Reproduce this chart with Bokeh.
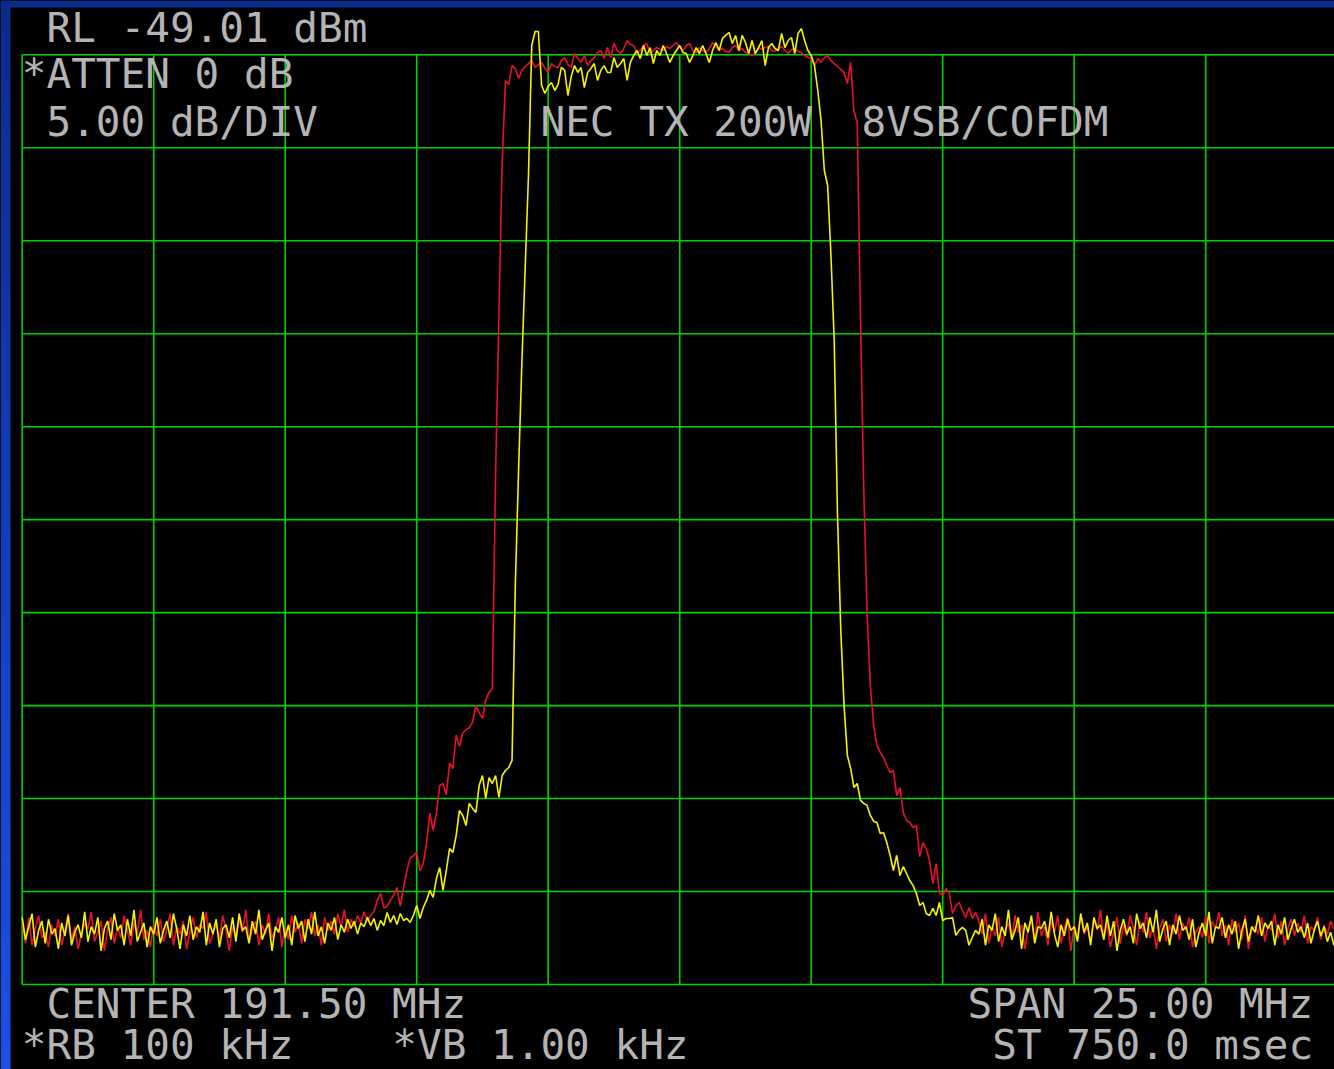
import numpy as np
from bokeh.plotting import figure
from bokeh.models import Range1d, ColumnDataSource
from bokeh.core.properties import value
from bokeh.embed import file_html
from bokeh.resources import INLINE

# ---------------- analyzer settings ----------------
center_mhz = 191.50
span_mhz = 25.00
ref_level_dbm = -49.01
db_per_div = 5.00
n_div = 10
n_points = 401

# ---------------- trace data (dBm) ----------------
red_floor_lo = [
    -95.6, -96.8, -95.4, -96.9, -96.0, -95.3, -96.5, -96.2, -97.0, -95.8,
    -96.4, -95.5, -96.9, -96.1, -95.2, -96.6, -95.9, -97.1, -96.3, -95.7,
    -96.0, -95.1, -96.7, -96.2, -95.6, -97.2, -96.0, -95.4, -96.8, -95.9,
    -96.5, -95.3, -96.1, -96.9, -95.7, -96.3, -95.0, -96.6, -96.1, -97.0,
    -95.8, -96.4, -95.5, -96.7, -96.0, -95.2, -96.9, -95.9, -96.3, -95.6,
    -97.1, -96.2, -95.4, -96.5, -95.8, -96.0, -95.1, -96.8, -96.3, -95.7,
    -96.6, -95.3, -96.1, -97.2, -95.9, -96.4, -95.5, -96.2, -95.0, -96.7,
    -96.0, -95.6, -96.9, -95.8, -96.3, -95.2, -96.5, -96.1, -95.4, -97.0,
    -95.9, -96.6, -95.3, -96.2, -95.7, -96.8, -95.5, -96.0, -95.1, -96.4,
    -95.8, -96.9, -95.4, -96.1, -95.6, -96.3, -95.2, -95.9, -95.0, -96.2,
    -95.5, -95.9, -95.3, -95.7, -95.1, -95.6]
red_rise = [
    -95.3, -95.1, -94.5, -94.1, -94.9, -94.8, -94.5, -94.2, -93.8, -94.8,
    -93.8, -92.9, -92.2, -92.1, -91.9, -92.9, -92.5, -91.4, -89.8, -90.7,
    -89.8, -88.3, -88.2, -88.8, -87.1, -87.4, -85.6, -86.2, -85.5, -85.3,
    -85.2, -84.9, -84.0, -84.4, -84.7, -83.7, -83.3, -83.1, -71.6, -63.0,
    -54.75, -50.4]
red_top = [
    -50.61, -49.59, -49.75, -50.28, -49.85, -49.64, -49.48, -49.32, -49.69, -49.53,
    -49.42, -49.75, -49.96, -49.48, -49.64, -49.69, -49.32, -49.16, -49.53, -49.69,
    -48.94, -49.21, -49.42, -49.05, -49.59, -49.32, -49.16, -48.89, -48.78, -49.21,
    -48.62, -49.16, -48.40, -48.78, -48.94, -48.67, -48.24, -48.46, -48.51, -48.94,
    -48.78, -48.51, -48.40, -48.94, -48.78, -48.62, -48.72, -48.78, -48.56, -48.67,
    -48.51, -48.35, -48.56, -48.78, -48.51, -48.40, -48.78, -48.89, -48.62, -48.78,
    -48.89, -48.67, -48.35, -48.56, -48.78, -48.67, -48.83, -48.89, -48.62, -48.51,
    -48.78, -48.67, -48.89, -48.94, -49.05, -48.89, -48.62, -48.72, -48.62, -48.56,
    -48.78, -48.83, -48.67, -48.56, -48.78, -48.94, -48.72, -48.67, -48.83, -48.89,
    -49.05, -49.16, -49.21, -49.59, -49.21, -49.42, -49.16, -49.05, -49.32, -49.48,
    -49.64, -49.80, -49.96, -50.55, -49.42, -52.01, -52.65]
red_fall = [
    -63.30, -72.44, -79.00, -82.93, -85.08, -86.15, -86.53, -86.80, -87.23, -87.61,
    -87.50, -88.85, -88.42, -89.76, -90.19, -90.30, -90.57, -90.46, -92.13, -91.38,
    -91.70, -92.34, -93.58, -92.51, -94.07, -94.23, -93.85, -94.12, -95.19, -94.76,
    -94.60, -95.03, -95.41, -94.87, -95.46, -95.14]
red_floor_hi = [
    -95.6, -96.3, -95.2, -96.8, -95.9, -96.4, -95.4, -97.0, -96.1, -95.7,
    -96.6, -95.3, -96.2, -95.8, -97.1, -96.0, -95.5, -96.7, -95.1, -96.4,
    -95.9, -96.9, -95.6, -96.2, -95.3, -96.8, -96.0, -95.4, -97.2, -95.8,
    -96.5, -95.2, -96.3, -95.9, -96.7, -95.5, -96.1, -95.0, -96.6, -95.7,
    -97.0, -96.2, -95.4, -96.8, -95.8, -96.4, -95.3, -96.0, -96.9, -95.6,
    -96.2, -95.1, -96.5, -95.9, -97.1, -96.0, -95.5, -96.7, -95.8, -96.3,
    -95.2, -96.6, -95.7, -96.1, -95.4, -97.0, -96.2, -95.9, -96.5, -95.3,
    -96.8, -95.6, -96.0, -95.1, -96.4, -95.8, -96.9, -95.5, -96.2, -95.7,
    -96.6, -95.3, -97.1, -96.0, -95.9, -96.3, -95.4, -96.7, -95.8, -96.1,
    -95.2, -96.5, -95.6, -96.9, -96.0, -95.5, -96.4, -95.7, -96.2, -95.3,
    -96.8, -95.9, -96.1, -95.4, -96.6, -95.8, -96.3, -95.6, -96.0, -95.7]

yellow_floor_lo = [
    -95.4, -96.6, -95.9, -95.2, -97.0, -96.1, -95.6, -96.8, -95.5, -96.3,
    -96.0, -97.1, -95.7, -96.4, -95.3, -96.9, -96.2, -95.8, -96.5, -95.1,
    -96.7, -95.9, -96.3, -95.4, -97.2, -96.0, -95.6, -96.6, -95.2, -96.1,
    -95.8, -96.9, -95.5, -96.4, -95.0, -96.7, -96.2, -95.7, -97.0, -95.9,
    -96.3, -95.4, -96.8, -96.1, -95.6, -96.5, -95.2, -96.0, -97.1, -95.8,
    -96.4, -95.3, -96.6, -95.9, -96.2, -95.1, -96.9, -95.7, -96.3, -95.5,
    -97.0, -96.0, -95.8, -96.5, -95.4, -96.7, -95.2, -96.1, -95.9, -96.8,
    -95.6, -96.3, -95.0, -96.6, -96.1, -95.7, -97.2, -95.9, -96.2, -95.4,
    -96.5, -95.8, -96.9, -95.3, -96.0, -95.6, -96.7, -95.5, -96.3, -95.1,
    -96.4, -95.9, -96.8, -95.7, -96.1, -95.4, -96.6, -95.8, -96.2, -95.5,
    -96.0, -95.6, -96.3, -95.7, -95.9, -95.4]
yellow_rise = [
    -95.84, -95.46, -96.10, -95.57, -95.84, -95.14, -95.67, -95.30, -95.78, -95.19,
    -95.57, -95.46, -95.67, -95.30, -94.76, -95.46, -94.87, -94.49, -93.95, -94.33,
    -93.31, -92.72, -93.95, -92.88, -91.70, -91.91, -91.00, -89.65, -89.92, -90.46,
    -89.27, -89.54, -89.76, -88.31, -87.77, -89.00, -87.88, -88.20, -87.77, -88.95,
    -87.77, -87.50, -87.34, -86.96, -77.5, -71.3, -65.5, -60.45, -55.5, -48.51,
    -47.76, -47.76]
yellow_top = [
    -50.66, -51.09, -50.71, -50.50, -50.93, -50.61, -49.69, -49.85, -51.20, -50.18,
    -49.59, -49.96, -49.69, -50.77, -49.96, -49.75, -49.48, -50.39, -49.85, -49.59,
    -49.96, -49.96, -49.16, -49.69, -49.48, -49.21, -50.39, -49.42, -49.05, -48.78,
    -49.21, -48.51, -49.05, -48.62, -49.48, -48.78, -49.05, -48.51, -48.94, -49.42,
    -49.05, -48.78, -48.51, -48.89, -48.94, -49.42, -49.05, -48.62, -48.94, -48.51,
    -48.94, -49.42, -48.78, -48.35, -48.78, -48.13, -47.97, -47.81, -48.40, -47.97,
    -48.78, -47.97, -48.35, -48.94, -48.24, -48.94, -48.62, -48.24, -49.59, -48.62,
    -48.40, -48.67, -48.78, -47.86, -48.62, -48.24, -48.08, -48.94, -47.86, -47.60,
    -48.24, -48.78]
yellow_fall = [
    -49.05, -49.59, -50.93, -52.54, -55.23, -56.04, -59.75, -64.37, -73.78, -79.97,
    -84.01, -86.69, -87.39, -88.42, -88.20, -89.11, -89.27, -89.38, -89.92, -90.24,
    -90.30, -90.89, -90.84, -91.38, -92.06, -92.88, -92.06, -93.15, -92.67, -93.04,
    -93.42, -93.69, -94.12, -94.76, -94.60, -95.19, -95.30, -94.92, -95.30, -94.60,
    -95.57, -95.46, -95.46, -95.41, -96.37, -96.10, -95.94, -96.10, -96.90, -96.48,
    -96.10]
yellow_floor_hi = [
    -96.3, -95.5, -96.9, -95.8, -96.1, -95.2, -96.7, -95.9, -96.4, -95.0,
    -96.6, -96.1, -95.4, -97.1, -95.7, -96.2, -95.3, -96.8, -95.9, -96.0,
    -95.6, -96.5, -95.1, -96.3, -97.0, -95.8, -96.4, -95.5, -96.1, -95.9,
    -96.7, -95.2, -96.2, -95.7, -96.9, -95.4, -96.0, -95.8, -96.6, -95.3,
    -96.4, -95.6, -97.2, -96.1, -95.5, -96.3, -95.9, -96.8, -95.2, -96.0,
    -95.7, -96.5, -95.4, -96.2, -95.0, -96.7, -96.0, -95.6, -96.9, -95.8,
    -96.3, -95.3, -96.1, -95.9, -96.6, -95.5, -97.0, -96.2, -95.7, -96.4,
    -95.1, -96.8, -95.9, -96.0, -95.4, -96.5, -95.8, -96.3, -95.6, -97.1,
    -96.1, -95.5, -96.7, -95.9, -96.2, -95.3, -96.4, -95.7, -96.0, -95.6,
    -96.9, -95.8, -96.3, -95.4, -96.6, -96.0, -95.5, -96.2, -95.9, -96.5,
    -95.7, -96.8, -96.1, -95.6, -96.4, -95.9, -96.7, -96.2, -96.9, -96.6]

annotation_texts = [
    "RL -49.01 dBm",
    "*ATTEN 0 dB",
    "5.00 dB/DIV",
    "NEC TX 200W",
    "8VSB/COFDM",
    "CENTER 191.50 MHz",
    "*RB 100 kHz",
    "*VB 1.00 kHz",
    "SPAN 25.00 MHz",
    "ST 750.0 msec",
]

red_db = red_floor_lo + red_rise + red_top + red_fall + red_floor_hi
yellow_db = yellow_floor_lo + yellow_rise + yellow_top + yellow_fall + yellow_floor_hi
assert len(red_db) == n_points, len(red_db)
assert len(yellow_db) == n_points, len(yellow_db)

start_mhz = center_mhz - span_mhz / 2
stop_mhz = center_mhz + span_mhz / 2
freq = np.linspace(start_mhz, stop_mhz, n_points)

# ---------------- layout (page pixels) ----------------
W, H = 1334, 1069
grid_left_px = 21.7
grid_top_px = 54.3
px_per_mhz = 52.6
px_per_db = 18.594

x_start = start_mhz - grid_left_px / px_per_mhz
x_end = x_start + W / px_per_mhz
y_end = ref_level_dbm + grid_top_px / px_per_db
y_start = y_end - H / px_per_db


def fx(px):
    return x_start + px / px_per_mhz


def fy(py):
    return y_end - py / px_per_db


p = figure(width=W, height=H, x_range=Range1d(x_start, x_end),
           y_range=Range1d(y_start, y_end), output_backend="svg",
           toolbar_location=None, min_border=0)
p.background_fill_color = "black"
p.border_fill_color = "black"
p.outline_line_color = None
p.xaxis.visible = False
p.yaxis.visible = False
p.grid.visible = False

# screen frame: navy top band and blue left band (darker at top, brighter at bottom)
p.quad(left=[fx(0)], right=[fx(W)], top=[fy(0)], bottom=[fy(7)],
       fill_color="#0a2d8c", line_color=None)
n_band = 40
c0 = (10, 45, 140)
c1 = (26, 80, 228)
band_cols = []
for k in range(n_band):
    t = k / (n_band - 1)
    band_cols.append("#%02x%02x%02x" % tuple(int(a + (b - a) * t) for a, b in zip(c0, c1)))
p.quad(left=[fx(0)] * n_band, right=[fx(10)] * n_band,
       top=[fy(k * H / n_band) for k in range(n_band)],
       bottom=[fy((k + 1) * H / n_band + 0.5) for k in range(n_band)],
       fill_color=band_cols, line_color=None)

bottom_db = ref_level_dbm - n_div * db_per_div
gx = [start_mhz + k * span_mhz / n_div for k in range(n_div + 1)]
gy = [ref_level_dbm - k * db_per_div for k in range(n_div + 1)]
grid_color = "#00d200"
p.segment(x0=gx, y0=[bottom_db] * len(gx), x1=gx, y1=[ref_level_dbm] * len(gx),
          line_color=grid_color, line_width=1.6)
p.segment(x0=[start_mhz] * len(gy), y0=gy, x1=[stop_mhz] * len(gy), y1=gy,
          line_color=grid_color, line_width=1.6)

p.line(freq, red_db, line_color="#e8102c", line_width=1.6)
p.line(freq, yellow_db, line_color="#f4f400", line_width=1.6)

adv = 24.7
dy = -15.5   # rendered baseline sits lower than the anchor in this backend
tx = [46, 46 - adv, 46, 540, 540 + 13 * adv, 46, 46 - adv, 46 + 14 * adv, 967, 967 + adv]
ty = [43, 89, 137, 137, 137, 1019, 1060, 1060, 1019, 1060]
src = ColumnDataSource(dict(
    x=[fx(a) for a in tx],
    y=[fy(b + dy) for b in ty],
    t=annotation_texts,
))
p.text(x="x", y="y", text="t", source=src, text_font=value("DejaVu Sans Mono"),
       text_font_size="41px", text_color="#b4b4b4", text_baseline="alphabetic",
       text_align="left")

html = file_html(p, INLINE)
html = html.replace(
    "</head>",
    "<style>html,body{margin:0 !important;padding:0 !important;"
    "overflow:hidden;background:#000;}</style></head>", 1)
open("out.html", "w").write(html)
